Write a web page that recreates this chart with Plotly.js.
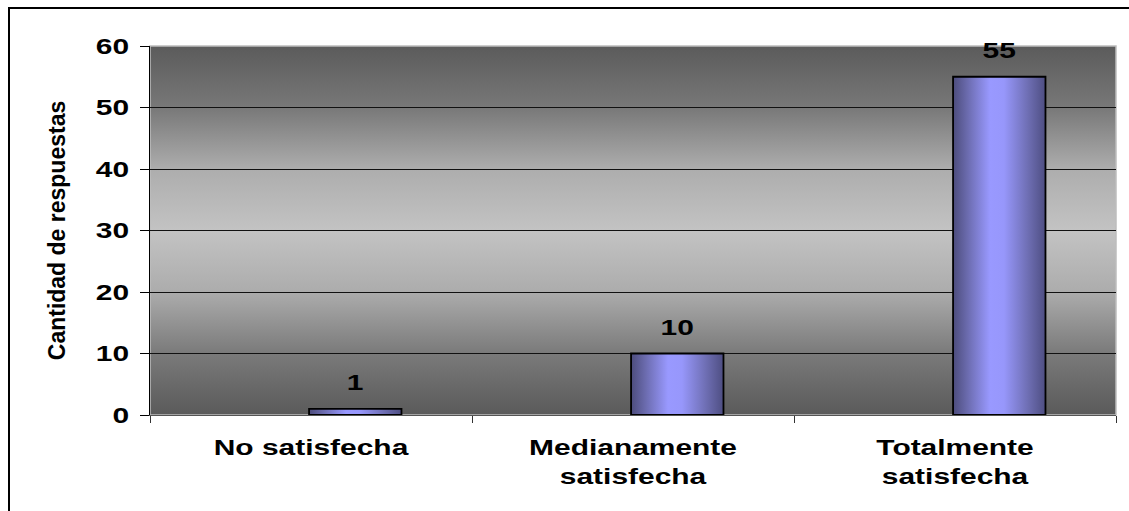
<!DOCTYPE html>
<html>
<head>
<meta charset="utf-8">
<script src="https://cdn.plot.ly/plotly-3.0.1.min.js"></script>
<style>
  html, body { margin: 0; padding: 0; background: #ffffff; }
  #chart { width: 1129px; height: 511px; }
</style>
</head>
<body>
<div id="chart"></div>
<script>
// ---- data ----
const categories = ["No satisfecha", "Medianamente satisfecha", "Totalmente satisfecha"];
const tickLabels = ["No satisfecha", "Medianamente<br>satisfecha", "Totalmente<br>satisfecha"];
const values = [1, 10, 55];
const yTickVals = [0, 10, 20, 30, 40, 50, 60];
const yTitle = "Cantidad de respuestas";

// ---- style ----
const FONT = "Liberation Sans, Arial, sans-serif";
const BAR_W = 0.287;
const BAR_OFF = -0.006;
const STRETCH = 1.36;

const bgSvg = "<svg xmlns='http://www.w3.org/2000/svg' width='10' height='100' viewBox='0 0 10 100' preserveAspectRatio='none'>" +
  "<defs><linearGradient id='g' x1='0' y1='0' x2='0' y2='1'>" +
  "<stop offset='0' stop-color='#5b5b5b'/>" +
  "<stop offset='0.167' stop-color='#787878'/>" +
  "<stop offset='0.333' stop-color='#adadad'/>" +
  "<stop offset='0.5' stop-color='#c3c3c3'/>" +
  "<stop offset='0.667' stop-color='#acacac'/>" +
  "<stop offset='0.833' stop-color='#7a7a7a'/>" +
  "<stop offset='1' stop-color='#5a5a5a'/>" +
  "</linearGradient></defs><rect x='0' y='0' width='10' height='100' fill='url(#g)'/></svg>";

const trace = {
  type: "bar",
  x: categories,
  y: values,
  width: BAR_W,
  offset: BAR_OFF,
  marker: { color: "#9999ff", line: { color: "#000000", width: 1.8 } },
  hoverinfo: "none",
  showlegend: false
};

const annotations = values.map((v, i) => ({
  x: i + BAR_OFF + BAR_W / 2,
  y: v,
  xref: "x", yref: "y",
  text: String(v),
  showarrow: false,
  yanchor: "bottom",
  xanchor: "center",
  yshift: 12,
  font: { family: FONT, size: 22, color: "#000000", weight: "bold" }
}));

const layout = {
  width: 1129,
  height: 511,
  margin: { l: 150, r: 13, t: 46, b: 96, pad: 0 },
  paper_bgcolor: "#ffffff",
  plot_bgcolor: "rgba(0,0,0,0)",
  showlegend: false,
  bargap: 0,
  xaxis: {
    type: "category",
    range: [-0.5, 2.5],
    tickmode: "array",
    tickvals: categories,
    ticktext: tickLabels,
    tickson: "boundaries",
    ticks: "outside",
    ticklen: 7,
    tickwidth: 1,
    tickcolor: "#333333",
    showline: true,
    linecolor: "#555555",
    linewidth: 1,
    showgrid: false,
    zeroline: false,
    ticklabelstandoff: 13,
    tickfont: { family: FONT, size: 22, color: "#000000", weight: "bold" },
    fixedrange: true
  },
  yaxis: {
    range: [0, 60],
    tickmode: "array",
    tickvals: yTickVals,
    ticks: "outside",
    ticklen: 9,
    tickwidth: 1,
    tickcolor: "#000000",
    showline: true,
    linecolor: "#000000",
    linewidth: 1.5,
    showgrid: true,
    gridcolor: "#111111",
    gridwidth: 1,
    zeroline: false,
    ticklabelstandoff: 6,
    tickfont: { family: FONT, size: 22, color: "#000000", weight: "bold" },
    title: { text: yTitle, font: { family: FONT, size: 23, color: "#000000", weight: "bold" }, standoff: 32 },
    fixedrange: true
  },
  images: [{
    source: "data:image/svg+xml;charset=utf-8," + encodeURIComponent(bgSvg),
    xref: "paper", yref: "paper",
    x: 0, y: 1, sizex: 1, sizey: 1,
    xanchor: "left", yanchor: "top",
    sizing: "stretch",
    layer: "below"
  }],
  shapes: [
    { type: "rect", xref: "paper", yref: "paper", x0: 0, x1: 1, y0: 0, y1: 1,
      line: { color: "#bdbdbd", width: 1.5 }, fillcolor: "rgba(0,0,0,0)", layer: "below" },
    { type: "rect", xref: "paper", yref: "paper",
      x0: (9 - 150) / 966, x1: 1.2, y0: -0.5, y1: (415 - 8) / 369,
      line: { color: "#000000", width: 2 }, fillcolor: "rgba(0,0,0,0)", layer: "above" }
  ],
  annotations: annotations
};

function stretchText(nodes, k) {
  nodes.forEach(t => {
    const lines = t.querySelectorAll("tspan.line");
    const els = lines.length ? Array.from(lines) : [t];
    els.forEach(el => {
      const w = el.getComputedTextLength();
      if (w > 0) {
        el.setAttribute("textLength", (w * k).toFixed(1));
        el.setAttribute("lengthAdjust", "spacingAndGlyphs");
      }
    });
  });
}

function decorate(gd) {
  const svg = gd.querySelector("svg.main-svg");
  const ns = "http://www.w3.org/2000/svg";
  let defs = svg.querySelector("defs");
  if (!defs) { defs = document.createElementNS(ns, "defs"); svg.insertBefore(defs, svg.firstChild); }
  const lg = document.createElementNS(ns, "linearGradient");
  lg.setAttribute("id", "barGrad");
  lg.setAttribute("x1", "0"); lg.setAttribute("y1", "0");
  lg.setAttribute("x2", "1"); lg.setAttribute("y2", "0");
  [["0", "#4c4c7c"], ["0.15", "#6a6aac"], ["0.4", "#9999ff"], ["0.55", "#9797fb"], ["0.8", "#7070b6"], ["1", "#4e4e82"]]
    .forEach(([o, c]) => {
      const s = document.createElementNS(ns, "stop");
      s.setAttribute("offset", o); s.setAttribute("stop-color", c);
      lg.appendChild(s);
    });
  defs.appendChild(lg);
  gd.querySelectorAll(".trace.bars .point path").forEach(p => { p.style.fill = "url(#barGrad)"; });

  stretchText(gd.querySelectorAll(".xtick text"), STRETCH);
  stretchText(gd.querySelectorAll(".ytick text"), STRETCH);
  stretchText(gd.querySelectorAll(".annotation-text"), STRETCH);
}

const gd = document.getElementById("chart");
Plotly.newPlot(gd, [trace], layout, { staticPlot: true, displayModeBar: false })
  .then(() => decorate(gd));
</script>
</body>
</html>
